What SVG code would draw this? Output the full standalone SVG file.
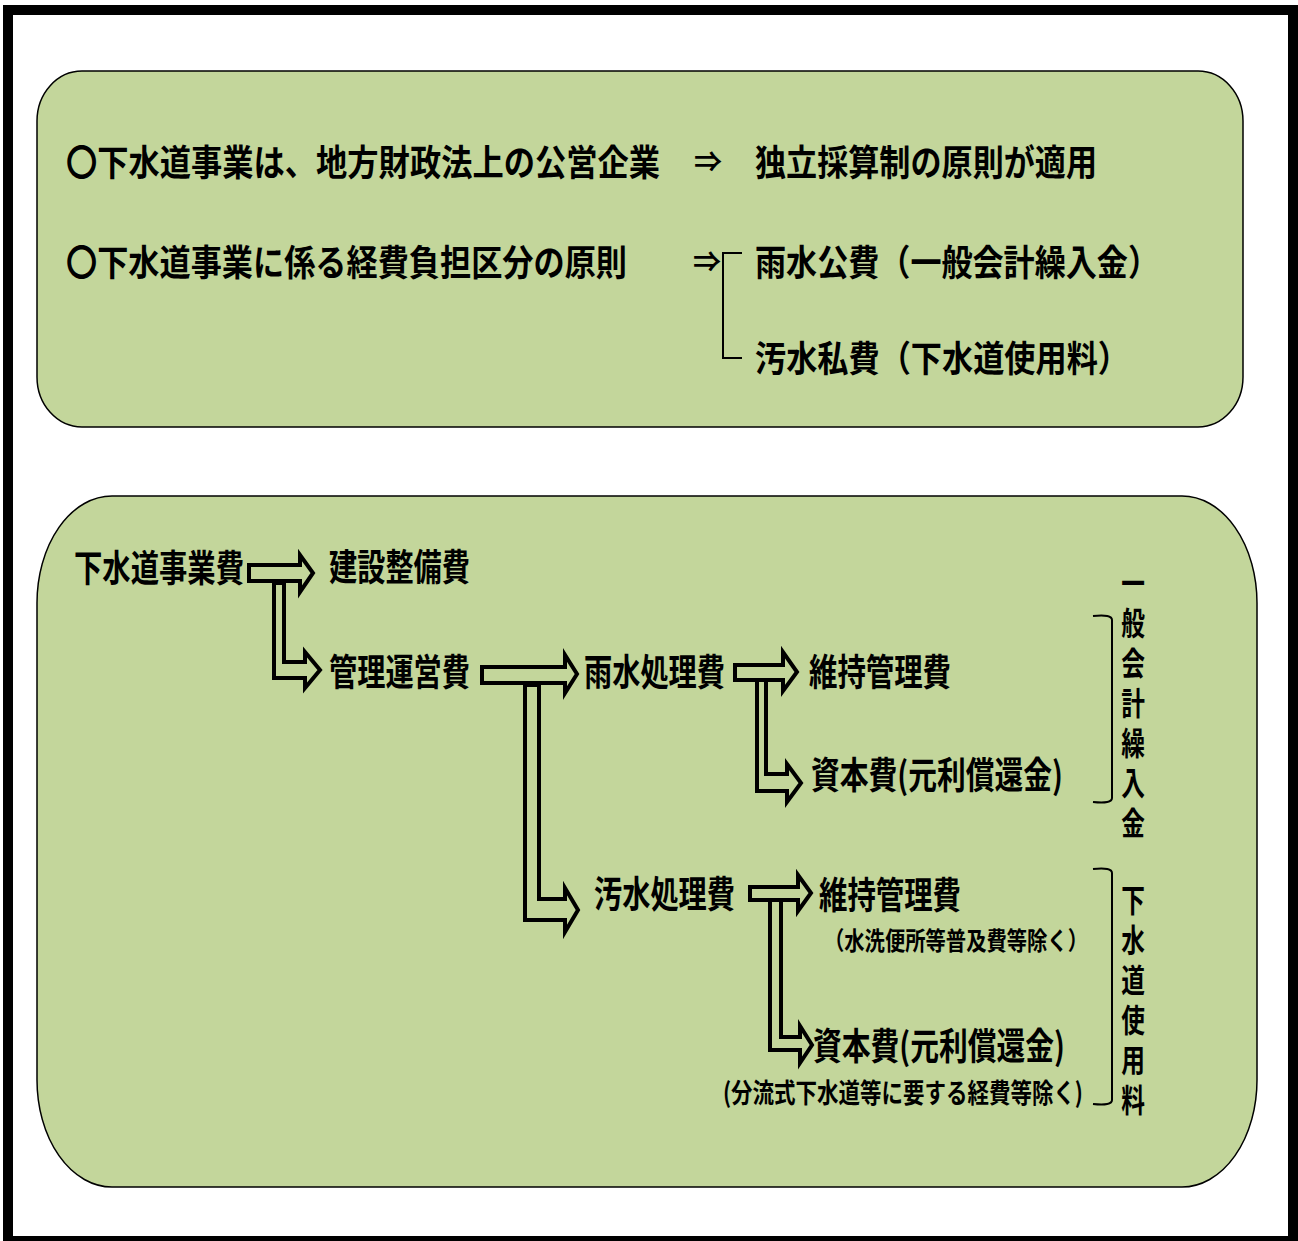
<svg xmlns="http://www.w3.org/2000/svg" width="1298" height="1241" viewBox="0 0 1298 1241">
<style>
.t{font-family:"Noto Sans CJK JP","Noto Sans CJK SC",sans-serif;font-weight:bold;fill:#000}
.box{fill:#C3D69B;stroke:#000;stroke-width:1.5}
.arr{fill:#C3D69B;stroke:#000;stroke-width:4;stroke-linejoin:miter}
.br{fill:none;stroke:#000;stroke-width:2}
</style>
<rect x="8" y="10" width="1285" height="1231" fill="#fff" stroke="#000" stroke-width="10"/>
<g id="top-box">
<rect class="box" x="37" y="71" width="1206" height="356" rx="45" ry="50"/>
<text class="t" x="66" y="176" font-size="36" textLength="594" lengthAdjust="spacingAndGlyphs">〇下水道事業は、地方財政法上の公営企業</text>
<text class="t" x="694" y="172" font-size="28">⇒</text>
<text class="t" x="755" y="176" font-size="36" textLength="342" lengthAdjust="spacingAndGlyphs">独立採算制の原則が適用</text>
<text class="t" x="66" y="276" font-size="36" textLength="561" lengthAdjust="spacingAndGlyphs">〇下水道事業に係る経費負担区分の原則</text>
<text class="t" x="693" y="272" font-size="28">⇒</text>
<text class="t" x="755" y="276" font-size="36" textLength="404" lengthAdjust="spacingAndGlyphs">雨水公費（一般会計繰入金）</text>
<text class="t" x="755" y="372" font-size="36" textLength="374" lengthAdjust="spacingAndGlyphs">汚水私費（下水道使用料）</text>
</g>
<g id="bottom-box">
<rect class="box" x="37" y="496" width="1220" height="691" rx="75" ry="107"/>
</g>
<g id="n-jigyohi"><text class="t" x="74" y="582" font-size="37" textLength="170" lengthAdjust="spacingAndGlyphs">下水道事業費</text></g>
<g id="n-kensetsu"><text class="t" x="329" y="581" font-size="37" textLength="141" lengthAdjust="spacingAndGlyphs">建設整備費</text></g>
<g id="n-kanri"><text class="t" x="329" y="686" font-size="37" textLength="141" lengthAdjust="spacingAndGlyphs">管理運営費</text></g>
<g id="n-usui"><text class="t" x="584" y="686" font-size="37" textLength="141" lengthAdjust="spacingAndGlyphs">雨水処理費</text></g>
<g id="n-usui-iji"><text class="t" x="809" y="686" font-size="37" textLength="142" lengthAdjust="spacingAndGlyphs">維持管理費</text></g>
<g id="n-usui-shihon"><text class="t" x="811" y="789" font-size="37" textLength="252" lengthAdjust="spacingAndGlyphs">資本費(元利償還金)</text></g>
<g id="n-osui"><text class="t" x="594" y="908" font-size="37" textLength="141" lengthAdjust="spacingAndGlyphs">汚水処理費</text></g>
<g id="n-osui-iji">
<text class="t" x="819" y="909" font-size="37" textLength="142" lengthAdjust="spacingAndGlyphs">維持管理費</text>
<text class="t" x="824" y="950" font-size="25" textLength="264" lengthAdjust="spacingAndGlyphs">（水洗便所等普及費等除く）</text>
</g>
<g id="n-osui-shihon">
<text class="t" x="813" y="1060" font-size="37" textLength="252" lengthAdjust="spacingAndGlyphs">資本費(元利償還金)</text>
<text class="t" x="723" y="1103" font-size="27" textLength="360" lengthAdjust="spacingAndGlyphs">(分流式下水道等に要する経費等除く)</text>
</g>
<g id="n-ippan" transform="translate(1133,0) scale(0.74,1)">
<text class="t" font-size="32" text-anchor="middle"><tspan x="0" y="595">一</tspan><tspan x="0" y="635">般</tspan><tspan x="0" y="675">会</tspan><tspan x="0" y="715">計</tspan><tspan x="0" y="755">繰</tspan><tspan x="0" y="795">入</tspan><tspan x="0" y="835">金</tspan></text>
</g>
<g id="n-shiyoryo" transform="translate(1133,0) scale(0.74,1)">
<text class="t" font-size="32" text-anchor="middle"><tspan x="0" y="912">下</tspan><tspan x="0" y="952">水</tspan><tspan x="0" y="992">道</tspan><tspan x="0" y="1032">使</tspan><tspan x="0" y="1072">用</tspan><tspan x="0" y="1112">料</tspan></text>
</g>
<g id="connectors">
<path class="br" d="M742 253 H723 V358 H742"/>
<path class="arr" d="M249 565 H300 V555 L313 573 L300 592 V581 H249 Z"/>
<path class="arr" d="M274 583 H284 V662 H305 V652 L320 670 L305 688 V678 H274 Z"/>
<path class="arr" d="M482 667 H565 V655 L577 674 L565 693 V683 H482 Z"/>
<path class="arr" d="M525 685 H539 V899 H565 V888 L578 910 L565 932 V920 H525 Z"/>
<path class="arr" d="M735 665 H783 V652 L797 672 L783 691 V680 H735 Z"/>
<path class="arr" d="M757 680 H766 V774 H787 V764 L801 783 L787 802 V791 H757 Z"/>
<path class="arr" d="M750 887 H798 V875 L811 893 L798 911 V900 H750 Z"/>
<path class="arr" d="M770 900 H781 V1037 H800 V1026 L812 1045 L800 1063 V1050 H770 Z"/>
<path class="br" d="M1093 616 Q1112 614 1112 620 V798 Q1112 804 1093 802"/>
<path class="br" d="M1093 869 Q1112 867 1112 873 V1100 Q1112 1106 1093 1104"/>
</g>
</svg>
